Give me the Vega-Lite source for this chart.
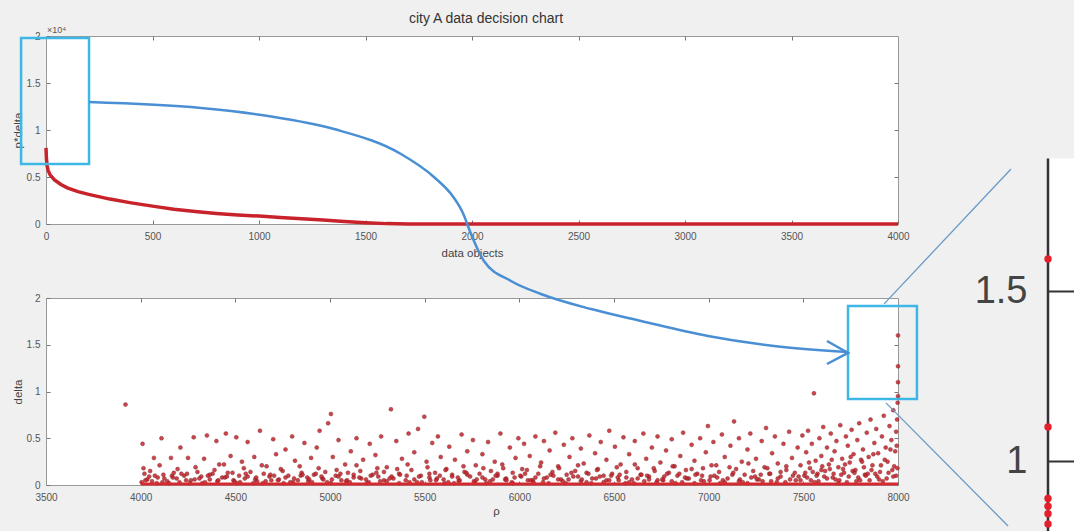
{
  "$schema": "https://vega.github.io/schema/vega-lite/v6.json",
  "background": "#f0f0f0",
  "padding": {"left": 11, "top": 11, "right": 0, "bottom": 0},
  "spacing": -38,
  "datasets": {
    "curve": [{"i":0,"v":8100},{"i":2,"v":7000},{"i":5,"v":6200},{"i":10,"v":5700},{"i":20,"v":5200},{"i":40,"v":4700},{"i":70,"v":4200},{"i":100,"v":3850},{"i":150,"v":3450},{"i":200,"v":3150},{"i":300,"v":2650},{"i":400,"v":2250},{"i":500,"v":1900},{"i":600,"v":1580},{"i":700,"v":1330},{"i":800,"v":1120},{"i":900,"v":960},{"i":1000,"v":840},{"i":1100,"v":700},{"i":1200,"v":560},{"i":1300,"v":420},{"i":1400,"v":260},{"i":1500,"v":130},{"i":1600,"v":40},{"i":1700,"v":10},{"i":2000,"v":0},{"i":4000,"v":0}],
    "box1": [{"x0":-117,"x1":202,"y0":6383,"y1":19787}],
    "expo": [{"x":0,"y":20000,"t":"×10⁴"}],
    "box2": [{"x0":7736,"x1":8100,"y0":0.92,"y1":1.914}],
    "zoomlines": [{"g":"up","x":7393,"y":1.462},{"g":"up","x":7863,"y":1.859},{"g":"lo","x":7400,"y":1.171},{"g":"lo","x":7852,"y":0.809}],
    "arc": [{"k":1,"x":3727,"y":4.096},{"k":2,"x":4319,"y":4.032},{"k":3,"x":4673,"y":3.947},{"k":4,"x":5021,"y":3.807},{"k":5,"x":5375,"y":3.54},{"k":6,"x":5549,"y":3.294},{"k":7,"x":5655,"y":3.07},{"k":8,"x":5702,"y":2.909},{"k":9,"x":5745,"y":2.684},{"k":10,"x":5813,"y":2.396},{"k":11,"x":5956,"y":2.182},{"k":12,"x":6114,"y":2.043},{"k":13,"x":6379,"y":1.882},{"k":14,"x":6643,"y":1.754},{"k":15,"x":6996,"y":1.594},{"k":16,"x":7345,"y":1.487},{"k":17,"x":7731,"y":1.422}],
    "arrow": [{"k":1,"x":7625,"y":1.54},{"k":2,"x":7736,"y":1.412},{"k":3,"x":7625,"y":1.294}],
    "base": [{"a":4000,"b":8000,"d":0.01}],
    "insetbg": [{"a":8000,"b":8100,"lo":0.7912,"hi":1.89}],
    "inset": [{"p":8000,"d":1.594},{"p":8000,"d":1.1},{"p":8000,"d":0.89},{"p":8000,"d":0.867},{"p":8000,"d":0.845},{"p":8000,"d":0.815}],
    "scatter": [
      {"p":3920,"d":0.86},
      {"p":4010,"d":0.44},{"p":4020,"d":0.12},{"p":4035,"d":0.06},{"p":4050,"d":0.15},{"p":4070,"d":0.29},{"p":4090,"d":0.08},{"p":4110,"d":0.5},{"p":4120,"d":0.11},{"p":4140,"d":0.04},{"p":4160,"d":0.29},{"p":4175,"d":0.13},{"p":4190,"d":0.07},{"p":4210,"d":0.4},{"p":4230,"d":0.1},{"p":4250,"d":0.29},{"p":4265,"d":0.05},{"p":4280,"d":0.51},{"p":4300,"d":0.14},{"p":4320,"d":0.09},{"p":4335,"d":0.28},{"p":4350,"d":0.53},{"p":4365,"d":0.06},{"p":4380,"d":0.12},{"p":4400,"d":0.47},{"p":4415,"d":0.22},{"p":4430,"d":0.08},{"p":4450,"d":0.55},{"p":4460,"d":0.13},{"p":4475,"d":0.31},{"p":4490,"d":0.05},
      {"p":4505,"d":0.51},{"p":4520,"d":0.1},{"p":4535,"d":0.25},{"p":4550,"d":0.07},{"p":4565,"d":0.46},{"p":4580,"d":0.14},{"p":4600,"d":0.3},{"p":4615,"d":0.04},{"p":4630,"d":0.58},{"p":4650,"d":0.12},{"p":4665,"d":0.2},{"p":4680,"d":0.09},{"p":4700,"d":0.49},{"p":4715,"d":0.33},{"p":4730,"d":0.06},{"p":4750,"d":0.15},{"p":4765,"d":0.38},{"p":4780,"d":0.1},{"p":4800,"d":0.52},{"p":4815,"d":0.26},{"p":4830,"d":0.05},{"p":4850,"d":0.13},{"p":4865,"d":0.45},{"p":4880,"d":0.08},{"p":4900,"d":0.29},{"p":4915,"d":0.11},{"p":4930,"d":0.4},{"p":4945,"d":0.58},{"p":4960,"d":0.07},{"p":4975,"d":0.14},{"p":4990,"d":0.66},{"p":5005,"d":0.76},
      {"p":5015,"d":0.3},{"p":5030,"d":0.1},{"p":5045,"d":0.48},{"p":5060,"d":0.05},{"p":5080,"d":0.22},{"p":5095,"d":0.13},{"p":5110,"d":0.36},{"p":5125,"d":0.08},{"p":5140,"d":0.5},{"p":5160,"d":0.15},{"p":5175,"d":0.27},{"p":5190,"d":0.06},{"p":5210,"d":0.44},{"p":5225,"d":0.11},{"p":5240,"d":0.32},{"p":5255,"d":0.09},{"p":5270,"d":0.52},{"p":5285,"d":0.14},{"p":5300,"d":0.19},{"p":5322,"d":0.81},{"p":5335,"d":0.07},{"p":5350,"d":0.47},{"p":5365,"d":0.12},{"p":5380,"d":0.28},{"p":5400,"d":0.05},{"p":5415,"d":0.55},{"p":5430,"d":0.16},{"p":5445,"d":0.35},{"p":5465,"d":0.6},{"p":5480,"d":0.1},{"p":5498,"d":0.73},
      {"p":5510,"d":0.25},{"p":5525,"d":0.08},{"p":5540,"d":0.45},{"p":5555,"d":0.13},{"p":5570,"d":0.52},{"p":5585,"d":0.3},{"p":5600,"d":0.06},{"p":5615,"d":0.17},{"p":5630,"d":0.41},{"p":5645,"d":0.11},{"p":5660,"d":0.27},{"p":5680,"d":0.04},{"p":5695,"d":0.54},{"p":5710,"d":0.14},{"p":5725,"d":0.36},{"p":5740,"d":0.09},{"p":5755,"d":0.48},{"p":5770,"d":0.21},{"p":5790,"d":0.12},{"p":5805,"d":0.33},{"p":5820,"d":0.06},{"p":5835,"d":0.46},{"p":5850,"d":0.15},{"p":5870,"d":0.25},{"p":5885,"d":0.1},{"p":5900,"d":0.55},{"p":5915,"d":0.18},{"p":5930,"d":0.07},{"p":5950,"d":0.4},{"p":5965,"d":0.13},{"p":5980,"d":0.29},{"p":5995,"d":0.5},
      {"p":6010,"d":0.09},{"p":6025,"d":0.44},{"p":6040,"d":0.16},{"p":6055,"d":0.31},{"p":6070,"d":0.05},{"p":6085,"d":0.52},{"p":6100,"d":0.12},{"p":6115,"d":0.24},{"p":6130,"d":0.47},{"p":6145,"d":0.08},{"p":6160,"d":0.37},{"p":6175,"d":0.14},{"p":6190,"d":0.56},{"p":6205,"d":0.2},{"p":6220,"d":0.06},{"p":6235,"d":0.43},{"p":6250,"d":0.11},{"p":6265,"d":0.3},{"p":6280,"d":0.5},{"p":6295,"d":0.15},{"p":6310,"d":0.09},{"p":6325,"d":0.39},{"p":6340,"d":0.23},{"p":6355,"d":0.13},{"p":6370,"d":0.53},{"p":6385,"d":0.07},{"p":6400,"d":0.34},{"p":6415,"d":0.17},{"p":6430,"d":0.46},{"p":6445,"d":0.1},{"p":6460,"d":0.27},{"p":6475,"d":0.58},{"p":6490,"d":0.12},
      {"p":6505,"d":0.41},{"p":6520,"d":0.08},{"p":6535,"d":0.22},{"p":6550,"d":0.51},{"p":6565,"d":0.14},{"p":6580,"d":0.33},{"p":6595,"d":0.06},{"p":6610,"d":0.47},{"p":6625,"d":0.18},{"p":6640,"d":0.11},{"p":6655,"d":0.55},{"p":6670,"d":0.28},{"p":6685,"d":0.09},{"p":6700,"d":0.4},{"p":6715,"d":0.15},{"p":6730,"d":0.52},{"p":6745,"d":0.24},{"p":6760,"d":0.05},{"p":6775,"d":0.37},{"p":6790,"d":0.13},{"p":6805,"d":0.49},{"p":6820,"d":0.2},{"p":6835,"d":0.1},{"p":6850,"d":0.31},{"p":6865,"d":0.56},{"p":6880,"d":0.16},{"p":6895,"d":0.07},{"p":6910,"d":0.43},{"p":6925,"d":0.26},{"p":6940,"d":0.12},{"p":6955,"d":0.5},{"p":6970,"d":0.18},{"p":6985,"d":0.35},{"p":6996,"d":0.63},
      {"p":7010,"d":0.09},{"p":7025,"d":0.46},{"p":7040,"d":0.21},{"p":7055,"d":0.14},{"p":7070,"d":0.54},{"p":7085,"d":0.3},{"p":7100,"d":0.07},{"p":7115,"d":0.42},{"p":7134,"d":0.68},{"p":7145,"d":0.17},{"p":7160,"d":0.5},{"p":7175,"d":0.25},{"p":7190,"d":0.11},{"p":7205,"d":0.38},{"p":7220,"d":0.55},{"p":7235,"d":0.15},{"p":7250,"d":0.28},{"p":7265,"d":0.06},{"p":7280,"d":0.47},{"p":7295,"d":0.19},{"p":7303,"d":0.61},{"p":7320,"d":0.12},{"p":7335,"d":0.34},{"p":7350,"d":0.52},{"p":7365,"d":0.23},{"p":7380,"d":0.09},{"p":7395,"d":0.44},{"p":7410,"d":0.16},{"p":7425,"d":0.57},{"p":7440,"d":0.29},{"p":7455,"d":0.13},{"p":7470,"d":0.4},{"p":7485,"d":0.21},{"p":7495,"d":0.53},
      {"p":7505,"d":0.1},{"p":7515,"d":0.35},{"p":7525,"d":0.58},{"p":7535,"d":0.18},{"p":7545,"d":0.44},{"p":7556,"d":0.98},{"p":7565,"d":0.26},{"p":7575,"d":0.12},{"p":7585,"d":0.5},{"p":7595,"d":0.31},{"p":7605,"d":0.62},{"p":7615,"d":0.15},{"p":7625,"d":0.4},{"p":7635,"d":0.22},{"p":7645,"d":0.55},{"p":7655,"d":0.08},{"p":7665,"d":0.36},{"p":7675,"d":0.47},{"p":7685,"d":0.19},{"p":7695,"d":0.64},{"p":7705,"d":0.28},{"p":7715,"d":0.13},{"p":7725,"d":0.52},{"p":7735,"d":0.42},{"p":7745,"d":0.24},{"p":7755,"d":0.59},{"p":7765,"d":0.33},{"p":7775,"d":0.16},{"p":7785,"d":0.48},{"p":7795,"d":0.66},{"p":7805,"d":0.27},{"p":7815,"d":0.38},{"p":7825,"d":0.11},{"p":7835,"d":0.56},{"p":7845,"d":0.3},{"p":7855,"d":0.7},{"p":7865,"d":0.21},{"p":7875,"d":0.45},{"p":7885,"d":0.6},{"p":7895,"d":0.34},{"p":7905,"d":0.14},{"p":7915,"d":0.52},{"p":7925,"d":0.74},{"p":7935,"d":0.4},{"p":7945,"d":0.25},{"p":7955,"d":0.63},{"p":7965,"d":0.48},{"p":7975,"d":0.8},{"p":7985,"d":0.36},{"p":7990,"d":0.57},{"p":7995,"d":0.7},{"p":7998,"d":0.88},{"p":8000,"d":0.95},{"p":8000,"d":1.1},{"p":8000,"d":1.27},{"p":8000,"d":1.6},
      {"p":4005,"d":0.03},{"p":4045,"d":0.09},{"p":4085,"d":0.02},{"p":4125,"d":0.07},{"p":4165,"d":0.1},{"p":4205,"d":0.03},{"p":4245,"d":0.12},{"p":4285,"d":0.06},{"p":4325,"d":0.02},{"p":4365,"d":0.11},{"p":4405,"d":0.04},{"p":4445,"d":0.08},{"p":4485,"d":0.13},{"p":4525,"d":0.03},{"p":4565,"d":0.09},{"p":4605,"d":0.06},{"p":4645,"d":0.02},{"p":4685,"d":0.11},{"p":4725,"d":0.05},{"p":4765,"d":0.08},{"p":4805,"d":0.03},{"p":4845,"d":0.1},{"p":4885,"d":0.04},{"p":4925,"d":0.12},{"p":4965,"d":0.06},{"p":5005,"d":0.02},{"p":5045,"d":0.09},{"p":5085,"d":0.04},{"p":5125,"d":0.11},{"p":5165,"d":0.07},{"p":5205,"d":0.03},{"p":5245,"d":0.13},{"p":5285,"d":0.05},{"p":5325,"d":0.09},{"p":5365,"d":0.02},{"p":5405,"d":0.1},{"p":5445,"d":0.06},{"p":5485,"d":0.03},{"p":5525,"d":0.12},{"p":5565,"d":0.07},{"p":5605,"d":0.02},{"p":5645,"d":0.09},{"p":5685,"d":0.05},{"p":5725,"d":0.11},{"p":5765,"d":0.03},{"p":5805,"d":0.08},{"p":5845,"d":0.04},{"p":5885,"d":0.12},{"p":5925,"d":0.06},{"p":5965,"d":0.02},{"p":6005,"d":0.1},{"p":6045,"d":0.05},{"p":6085,"d":0.08},{"p":6125,"d":0.03},{"p":6165,"d":0.11},{"p":6205,"d":0.06},{"p":6245,"d":0.02},{"p":6285,"d":0.09},{"p":6325,"d":0.04},{"p":6365,"d":0.12},{"p":6405,"d":0.07},{"p":6445,"d":0.03},{"p":6485,"d":0.1},{"p":6525,"d":0.05},{"p":6565,"d":0.08},{"p":6605,"d":0.02},{"p":6645,"d":0.11},{"p":6685,"d":0.06},{"p":6725,"d":0.03},{"p":6765,"d":0.09},{"p":6805,"d":0.04},{"p":6845,"d":0.12},{"p":6885,"d":0.07},{"p":6925,"d":0.02},{"p":6965,"d":0.1},{"p":7005,"d":0.05},{"p":7045,"d":0.08},{"p":7085,"d":0.03},{"p":7125,"d":0.11},{"p":7165,"d":0.06},{"p":7205,"d":0.02},{"p":7245,"d":0.09},{"p":7285,"d":0.04},{"p":7325,"d":0.12},{"p":7365,"d":0.07},{"p":7405,"d":0.03},{"p":7445,"d":0.1},{"p":7485,"d":0.05},{"p":7520,"d":0.08},{"p":7550,"d":0.14},{"p":7580,"d":0.04},{"p":7610,"d":0.09},{"p":7640,"d":0.17},{"p":7670,"d":0.06},{"p":7700,"d":0.11},{"p":7730,"d":0.03},{"p":7760,"d":0.15},{"p":7790,"d":0.08},{"p":7820,"d":0.19},{"p":7850,"d":0.05},{"p":7880,"d":0.12},{"p":7910,"d":0.21},{"p":7940,"d":0.07},{"p":7970,"d":0.16},{"p":7990,"d":0.1},
      {"p":4015,"d":0.18},{"p":4060,"d":0.04},{"p":4100,"d":0.21},{"p":4150,"d":0.02},{"p":4195,"d":0.17},{"p":4240,"d":0.05},{"p":4290,"d":0.19},{"p":4340,"d":0.03},{"p":4390,"d":0.16},{"p":4440,"d":0.22},{"p":4495,"d":0.04},{"p":4545,"d":0.18},{"p":4595,"d":0.02},{"p":4640,"d":0.21},{"p":4690,"d":0.05},{"p":4740,"d":0.17},{"p":4790,"d":0.03},{"p":4840,"d":0.2},{"p":4890,"d":0.06},{"p":4940,"d":0.18},{"p":4985,"d":0.03},{"p":5035,"d":0.16},{"p":5090,"d":0.05},{"p":5140,"d":0.21},{"p":5195,"d":0.02},{"p":5250,"d":0.18},{"p":5300,"d":0.04},{"p":5355,"d":0.17},{"p":5410,"d":0.22},{"p":5460,"d":0.03},{"p":5515,"d":0.19},{"p":5560,"d":0.05},{"p":5610,"d":0.16},{"p":5655,"d":0.02},{"p":5705,"d":0.2},{"p":5760,"d":0.04},{"p":5810,"d":0.18},{"p":5860,"d":0.06},{"p":5910,"d":0.22},{"p":5960,"d":0.03},{"p":6015,"d":0.17},{"p":6060,"d":0.05},{"p":6110,"d":0.2},{"p":6155,"d":0.02},{"p":6210,"d":0.18},{"p":6260,"d":0.06},{"p":6310,"d":0.21},{"p":6355,"d":0.03},{"p":6410,"d":0.16},{"p":6460,"d":0.05},{"p":6515,"d":0.19},{"p":6560,"d":0.02},{"p":6610,"d":0.22},{"p":6660,"d":0.04},{"p":6710,"d":0.18},{"p":6755,"d":0.06},{"p":6810,"d":0.2},{"p":6860,"d":0.03},{"p":6910,"d":0.17},{"p":6960,"d":0.05},{"p":7015,"d":0.21},{"p":7060,"d":0.02},{"p":7110,"d":0.19},{"p":7160,"d":0.04},{"p":7210,"d":0.23},{"p":7255,"d":0.06},{"p":7310,"d":0.18},{"p":7360,"d":0.03},{"p":7410,"d":0.2},{"p":7460,"d":0.05},{"p":7530,"d":0.24},{"p":7560,"d":0.03},{"p":7600,"d":0.2},{"p":7650,"d":0.27},{"p":7690,"d":0.05},{"p":7720,"d":0.22},{"p":7750,"d":0.3},{"p":7780,"d":0.04},{"p":7810,"d":0.25},{"p":7840,"d":0.12},{"p":7870,"d":0.33},{"p":7900,"d":0.06},{"p":7930,"d":0.27},{"p":7960,"d":0.38},{"p":7980,"d":0.2},{"p":7993,"d":0.42},
      {"p":4025,"d":0.05},{"p":4075,"d":0.1},{"p":4115,"d":0.03},{"p":4170,"d":0.08},{"p":4215,"d":0.12},{"p":4260,"d":0.02},{"p":4310,"d":0.07},{"p":4355,"d":0.1},{"p":4410,"d":0.05},{"p":4455,"d":0.09},{"p":4508,"d":0.02},{"p":4555,"d":0.12},{"p":4610,"d":0.08},{"p":4660,"d":0.04},{"p":4705,"d":0.1},{"p":4755,"d":0.02},{"p":4810,"d":0.07},{"p":4855,"d":0.11},{"p":4905,"d":0.03},{"p":4955,"d":0.09},{"p":5010,"d":0.06},{"p":5055,"d":0.12},{"p":5105,"d":0.03},{"p":5155,"d":0.08},{"p":5215,"d":0.1},{"p":5265,"d":0.04},{"p":5315,"d":0.07},{"p":5370,"d":0.11},{"p":5420,"d":0.03},{"p":5470,"d":0.09},{"p":5530,"d":0.05},{"p":5580,"d":0.1},{"p":5625,"d":0.03},{"p":5675,"d":0.08},{"p":5720,"d":0.13},{"p":5775,"d":0.06},{"p":5825,"d":0.02},{"p":5875,"d":0.1},{"p":5932,"d":0.05},{"p":5975,"d":0.08},{"p":6030,"d":0.12},{"p":6075,"d":0.03},{"p":6130,"d":0.07},{"p":6180,"d":0.1},{"p":6230,"d":0.04},{"p":6275,"d":0.13},{"p":6330,"d":0.06},{"p":6380,"d":0.02},{"p":6425,"d":0.09},{"p":6475,"d":0.05},{"p":6530,"d":0.11},{"p":6580,"d":0.03},{"p":6625,"d":0.07},{"p":6675,"d":0.1},{"p":6730,"d":0.05},{"p":6780,"d":0.12},{"p":6825,"d":0.02},{"p":6875,"d":0.08},{"p":6930,"d":0.11},{"p":6975,"d":0.04},{"p":7030,"d":0.1},{"p":7075,"d":0.05},{"p":7130,"d":0.13},{"p":7180,"d":0.03},{"p":7225,"d":0.08},{"p":7275,"d":0.11},{"p":7330,"d":0.04},{"p":7380,"d":0.14},{"p":7430,"d":0.06},{"p":7475,"d":0.09},{"p":7510,"d":0.13},{"p":7540,"d":0.05},{"p":7570,"d":0.1},{"p":7595,"d":0.16},{"p":7625,"d":0.07},{"p":7660,"d":0.12},{"p":7685,"d":0.02},{"p":7710,"d":0.17},{"p":7740,"d":0.09},{"p":7770,"d":0.13},{"p":7800,"d":0.05},{"p":7830,"d":0.1},{"p":7860,"d":0.16},{"p":7890,"d":0.09},{"p":7920,"d":0.04},{"p":7950,"d":0.13},{"p":7975,"d":0.09},{"p":7997,"d":0.18}
    ]
  },
  "hconcat": [
    {
      "bounds": "flush",
      "spacing": 74,
      "vconcat": [
        {
          "width": 852,
          "height": 188,
          "title": {"text": "city A  data decision chart", "fontSize": 14, "fontWeight": "normal", "font": "Liberation Sans", "color": "#333", "offset": 0, "dx": 14},
          "resolve": {"axis": {"x": "independent", "y": "independent"}},
          "layer": [
            {
              "data": {"name": "curve"},
              "mark": {"type": "line", "color": "#c8232b", "strokeWidth": 3.5},
              "encoding": {
                "x": {"field": "i", "type": "quantitative", "scale": {"domain": [0, 4000], "nice": false}, "axis": {"values": [0,500,1000,1500,2000,2500,3000,3500,4000], "format": "d", "title": "data objects", "labelPadding": 11, "titlePadding": 6}},
                "y": {"field": "v", "type": "quantitative", "scale": {"domain": [0, 20000], "nice": false}, "axis": {"values": [0,5000,10000,15000,20000], "labelExpr": "datum.value/10000", "title": "p*delta", "labelPadding": 10, "titlePadding": 3}}
              }
            },
            {
              "data": {"name": "box1"},
              "mark": {"type": "rect", "fillOpacity": 0, "stroke": "#3db8e6", "strokeWidth": 2.5},
              "encoding": {
                "x": {"field": "x0", "type": "quantitative", "axis": {"orient": "top", "labels": false, "title": null, "domain": false, "values": [500,1000,1500,2000,2500,3000,3500]}},
                "x2": {"field": "x1"},
                "y": {"field": "y0", "type": "quantitative", "axis": {"orient": "right", "labels": false, "title": null, "domain": false, "values": [5000,10000,15000]}},
                "y2": {"field": "y1"}
              }
            },
            {
              "data": {"name": "expo"},
              "mark": {"type": "text", "align": "left", "baseline": "bottom", "dx": 1, "dy": -1, "fontSize": 9, "color": "#555", "font": "Liberation Sans"},
              "encoding": {
                "x": {"field": "x", "type": "quantitative", "axis": null},
                "y": {"field": "y", "type": "quantitative", "axis": null},
                "text": {"field": "t"}
              }
            }
          ]
        },
        {
          "width": 852,
          "height": 187,
          "resolve": {"axis": {"x": "independent", "y": "independent"}},
          "layer": [
            {
              "data": {"name": "scatter"},
              "mark": {"type": "circle", "color": "#c8222b", "size": 16, "opacity": 0.85, "stroke": "#6e1c1c", "strokeWidth": 0.5},
              "encoding": {
                "x": {"field": "p", "type": "quantitative", "scale": {"domain": [3500, 8000], "nice": false, "zero": false}, "axis": {"values": [3500,4000,4500,5000,5500,6000,6500,7000,7500,8000], "format": "d", "title": "ρ", "titleX": 450, "labelPadding": 11, "titlePadding": 3}},
                "y": {"field": "d", "type": "quantitative", "scale": {"domain": [0, 2], "nice": false}, "axis": {"values": [0,0.5,1,1.5,2], "labelExpr": "toString(datum.value)", "title": "delta", "labelPadding": 10, "titlePadding": 3}}
              }
            },
            {
              "data": {"name": "base"},
              "mark": {"type": "rule", "color": "#d42a2f", "strokeWidth": 3},
              "encoding": {
                "x": {"field": "a", "type": "quantitative", "axis": {"orient": "top", "labels": false, "title": null, "domain": false, "values": [4000,4500,5000,5500,6000,6500,7000,7500]}},
                "x2": {"field": "b"},
                "y": {"field": "d", "type": "quantitative", "axis": {"orient": "right", "labels": false, "title": null, "domain": false, "values": [0.5,1,1.5]}}
              }
            },
            {
              "data": {"name": "box2"},
              "mark": {"type": "rect", "fillOpacity": 0, "stroke": "#3db8e6", "strokeWidth": 2.5},
              "encoding": {
                "x": {"field": "x0", "type": "quantitative", "axis": null},
                "x2": {"field": "x1"},
                "y": {"field": "y0", "type": "quantitative", "axis": null},
                "y2": {"field": "y1"}
              }
            },
            {
              "data": {"name": "arc"},
              "mark": {"type": "line", "color": "#4a8fd4", "strokeWidth": 2.5, "interpolate": "monotone"},
              "encoding": {
                "x": {"field": "x", "type": "quantitative", "axis": null},
                "y": {"field": "y", "type": "quantitative", "axis": null},
                "order": {"field": "k"}
              }
            },
            {
              "data": {"name": "arrow"},
              "mark": {"type": "line", "color": "#4a8fd4", "strokeWidth": 2.5},
              "encoding": {
                "x": {"field": "x", "type": "quantitative", "axis": null},
                "y": {"field": "y", "type": "quantitative", "axis": null},
                "order": {"field": "k"}
              }
            }
          ]
        }
      ]
    },
    {
      "width": 27,
      "height": 496,
      "view": {"stroke": null, "fill": null},
      "resolve": {"axis": {"x": "independent", "y": "independent"}},
      "layer": [
        {
          "data": {"name": "insetbg"},
          "mark": {"type": "rect", "color": "white", "opacity": 1},
          "encoding": {
            "x": {"field": "a", "type": "quantitative", "scale": {"domain": [8000, 8100], "nice": false, "zero": false}, "axis": null},
            "x2": {"field": "b"},
            "y": {"field": "lo", "type": "quantitative", "scale": {"domain": [0.7912, 2.25], "nice": false, "zero": false}, "axis": {"values": [1, 1.5], "labelExpr": "toString(datum.value)", "title": null, "domain": false, "zindex": 1, "labelFontSize": 38, "labelColor": "#444", "tickColor": "#333", "tickWidth": 2, "tickSize": -40, "labelPadding": 61, "labelFont": "Liberation Sans"}},
            "y2": {"field": "hi"}
          }
        },
        {
          "data": {"name": "insetbg"},
          "mark": {"type": "rule", "color": "#333", "strokeWidth": 2.5},
          "encoding": {
            "x": {"field": "a", "type": "quantitative", "axis": null},
            "y": {"field": "lo", "type": "quantitative", "axis": null},
            "y2": {"field": "hi"}
          }
        },
        {
          "data": {"name": "zoomlines"},
          "mark": {"type": "line", "color": "#6a9ac8", "strokeWidth": 1.3},
          "encoding": {
            "x": {"field": "x", "type": "quantitative", "axis": null},
            "y": {"field": "y", "type": "quantitative", "axis": null},
            "detail": {"field": "g"}
          }
        },
        {
          "data": {"name": "inset"},
          "mark": {"type": "circle", "color": "#e3202c", "size": 55, "opacity": 1},
          "encoding": {
            "x": {"field": "p", "type": "quantitative", "axis": null},
            "y": {"field": "d", "type": "quantitative", "axis": null}
          }
        }
      ]
    }
  ],
  "config": {
    "view": {"stroke": "#999", "fill": "white"},
    "axis": {"labelFont": "Liberation Sans", "labelFontSize": 10, "labelColor": "#555", "labelFlush": false, "titleFont": "Liberation Sans", "titleFontSize": 11.5, "titleFontWeight": "normal", "titleColor": "#444", "domainColor": "#999", "tickColor": "#777", "tickSize": -4, "grid": false}
  }
}
